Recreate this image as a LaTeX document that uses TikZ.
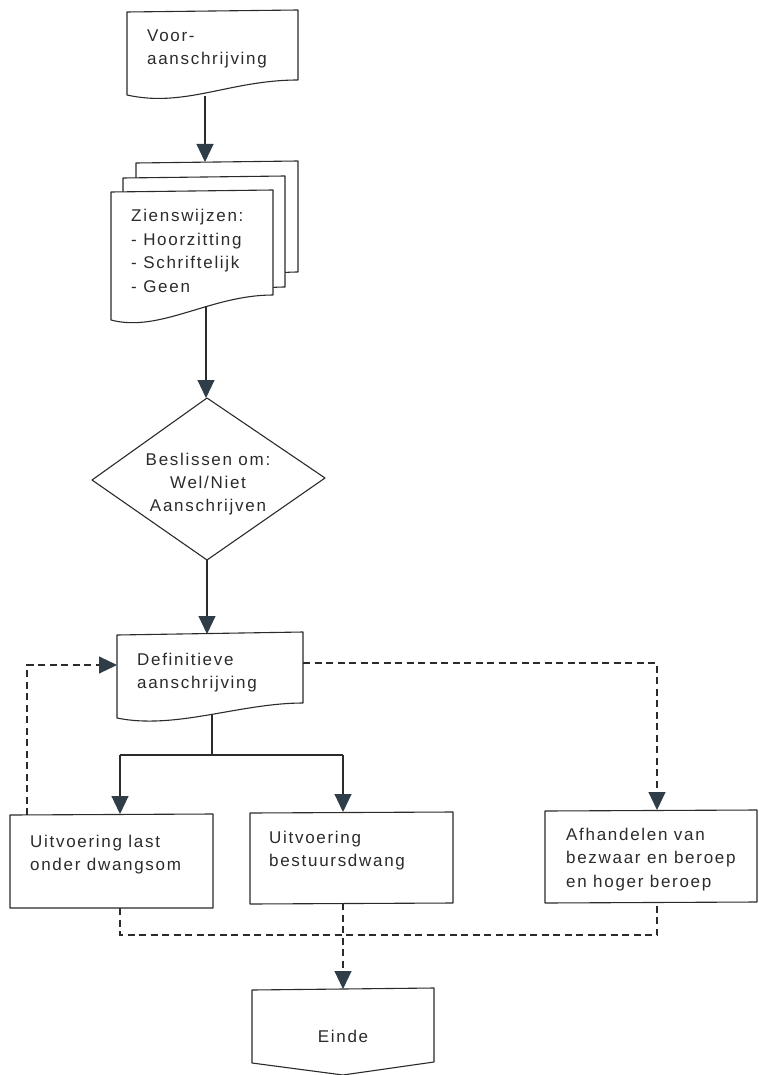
\documentclass[tikz,border=0pt]{standalone}
\usepackage{fontspec}
\setmainfont{Liberation Sans}[LetterSpace=10]
\usetikzlibrary{arrows.meta}
\definecolor{ink}{HTML}{2B2B2B}
\definecolor{arrowc}{HTML}{2E3D48}
\tikzset{
  shape line/.style={draw=ink, line width=1.1pt, fill=white, line join=round},
  conn/.style={draw=ink, line width=1.1pt},
  dconn/.style={draw=ink, line width=1.1pt, dash pattern=on 7pt off 4.5pt},
  tip/.style={-{Triangle[width=17pt,length=18pt,fill=arrowc,color=arrowc]}},
  lbl/.style={inner sep=0pt, anchor=north west, align=left, text=ink,
    font=\fontsize{17}{23.5}\selectfont},
  clbl/.style={inner sep=0pt, align=center, text=ink,
    font=\fontsize{17}{23}\selectfont},
}
\begin{document}
\begin{tikzpicture}[x=1pt,y=-1pt]
\useasboundingbox (0,0) rectangle (759,1075);
\fill[white] (0,0) rectangle (759,1075);

% Box 1: document
\path[shape line] (127,12) -- (298,10) -- (298,80)
  .. controls (230,80) and (185,108) .. (127,95) -- cycle;
\node[lbl] (t1) at (147,29.5) {Voor-\\aanschrijving};
\coordinate (b1s) at (205,96);

% Box 2: stacked documents
\path[shape line] (136,163) -- (298,161) -- (298,272)
  .. controls (235,272) and (185,305) .. (136,295) -- cycle;
\path[shape line] (123,178) -- (285,176) -- (285,287)
  .. controls (222,287) and (172,320) .. (123,310) -- cycle;
\path[shape line] (111,192) -- (273,190) -- (273,295)
  .. controls (210,295) and (160,333) .. (111,320) -- cycle;
\node[lbl] (t2) at (131,209) {Zienswijzen:\\- Hoorzitting\\- Schriftelijk\\- Geen};
\coordinate (b2n) at (205,162);
\coordinate (b2s) at (206,306);

% Diamond
\path[shape line] (207,398) -- (325,478) -- (207,560) -- (92,480) -- cycle;
\node[clbl] (t3) at (208,484) {Beslissen om:\\Wel/Niet\\Aanschrijven};
\coordinate (d3n) at (206,398);
\coordinate (d3s) at (207,560);

% Box 4: document
\path[shape line] (117,635) -- (303,632) -- (303,703)
  .. controls (240,703) and (175,730) .. (117,718) -- cycle;
\node[lbl] (t4) at (137,652.5) {Definitieve\\aanschrijving};
\coordinate (b4n) at (207,634);
\coordinate (b4s) at (212,714);
\coordinate (b4w) at (117,665);
\coordinate (b4e) at (303,663);

% Process boxes
\path[shape line] (10,815) -- (213,814) -- (213,908) -- (10,908) -- cycle;
\node[lbl] (t5) at (30,834.5) {Uitvoering last\\onder dwangsom};
\path[shape line] (250,813) -- (453,812) -- (453,903) -- (250,904) -- cycle;
\node[lbl] (t6) at (269,830.5) {Uitvoering\\bestuursdwang};
\path[shape line] (545,811) -- (757,810) -- (757,902) -- (545,903) -- cycle;
\node[lbl] (t7) at (566,827.5) {Afhandelen van\\bezwaar en beroep\\en hoger beroep};
\coordinate (b5n) at (120,814);
\coordinate (b5nw) at (27,815);
\coordinate (b5s) at (120,908);
\coordinate (b6n) at (343,812);
\coordinate (b6s) at (343,903);
\coordinate (b7n) at (657,810);
\coordinate (b7s) at (657,902);

% Einde
\path[shape line] (252,990) -- (434,988) -- (434,1062) -- (343,1075) -- (252,1063) -- cycle;
\node[clbl] (t8) at (343,1036) {Einde};
\coordinate (b8n) at (343,989);

% Solid connectors
\draw[conn,tip] (b1s) -- (b2n);
\draw[conn,tip] (b2s) -- (d3n);
\draw[conn,tip] (d3s) -- (b4n);
\coordinate (split) at (212,755);
\draw[conn] (b4s) -- (split);
\draw[conn] (b5n |- split) -- (b6n |- split);
\draw[conn,tip] (b5n |- split) -- (b5n);
\draw[conn,tip] (b6n |- split) -- (b6n);

% Dashed connectors
\draw[dconn,tip] (b5nw) -- (b5nw |- b4w) -- (b4w);
\draw[dconn,tip] (b4e) -- (b7n |- b4e) -- (b7n);
\coordinate (join) at (343,935);
\draw[dconn] (b5s) -- (b5s |- join) -- (b7s |- join) -- (b7s);
\draw[dconn,tip] (b6s) -- (b8n);
\end{tikzpicture}
\end{document}
